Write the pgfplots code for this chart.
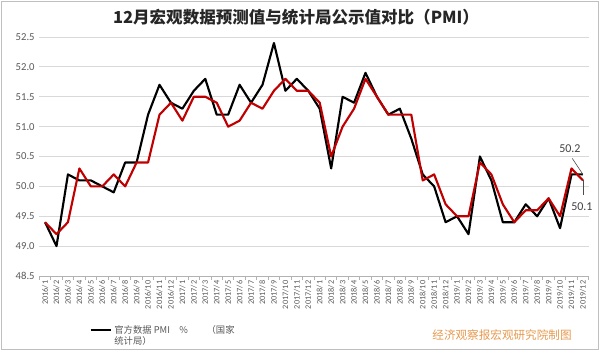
\documentclass[border=0pt]{standalone}
\usepackage{fontspec}
\setmainfont{Carlito}
\newfontfamily\cjk{Noto Sans CJK SC}
\usepackage{pgfplots}
\usepackage{pgfplotstable}
\pgfplotsset{compat=1.18}
\definecolor{gridgray}{HTML}{D9D9D9}
\definecolor{labgray}{HTML}{595959}
\definecolor{axred}{HTML}{C00000}
\definecolor{wm}{HTML}{E6994F}
\pgfplotstableread{
idx off fc
0 49.4 49.4
1 49.0 49.2
2 50.2 49.4
3 50.1 50.3
4 50.1 50.0
5 50.0 50.0
6 49.9 50.2
7 50.4 50.0
8 50.4 50.4
9 51.2 50.4
10 51.7 51.2
11 51.4 51.4
12 51.3 51.1
13 51.6 51.5
14 51.8 51.5
15 51.2 51.4
16 51.2 51.0
17 51.7 51.1
18 51.4 51.4
19 51.7 51.3
20 52.4 51.6
21 51.6 51.8
22 51.8 51.6
23 51.6 51.6
24 51.3 51.4
25 50.3 50.5
26 51.5 51.0
27 51.4 51.3
28 51.9 51.8
29 51.5 51.5
30 51.2 51.2
31 51.3 51.2
32 50.8 51.2
33 50.2 50.1
34 50.0 50.2
35 49.4 49.7
36 49.5 49.5
37 49.2 49.5
38 50.5 50.4
39 50.1 50.2
40 49.4 49.7
41 49.4 49.4
42 49.7 49.6
43 49.5 49.6
44 49.8 49.8
45 49.3 49.5
46 50.2 50.3
47 50.2 50.1
}\datatable
\begin{document}
\begin{tikzpicture}
\path[use as bounding box] (0,0) rectangle (450pt,266.25pt);
\draw[gray!50, line width=0.75pt] (1.1pt,4.5pt) rectangle (448.6pt,265.4pt);
\node[font=\cjk\bfseries\fontsize{12.4}{14}\selectfont, text=black!85] at (222pt,253.5pt) {12月宏观数据预测值与统计局公示值对比（PMI）};
\begin{axis}[
  at={(29.5pt,59.25pt)}, anchor=south west,
  scale only axis, width=412pt, height=179.25pt,
  xmin=-0.5, xmax=47.5, ymin=48.5, ymax=52.5,
  clip mode=individual,
  axis x line*=bottom, axis y line*=left,
  x axis line style={draw=gray!60, line width=0.75pt, -},
  y axis line style={draw=none},
  ytick={48.5,49.0,49.5,50.0,50.5,51.0,51.5,52.0,52.5},
  ymajorgrids, grid style={gridgray, line width=0.75pt},
  major tick length=0pt,
  minor tick length=3pt,
  tick align=outside,
  minor xtick={-0.5,0.5,...,47.5},
  minor tick style={draw=gray!60, line width=0.6pt},
  xtick={0,1,...,47},
  xticklabels={2016/1,2016/2,2016/3,2016/4,2016/5,2016/6,2016/7,2016/8,2016/9,2016/10,2016/11,2016/12,
    2017/1,2017/2,2017/3,2017/4,2017/5,2017/6,2017/7,2017/8,2017/9,2017/10,2017/11,2017/12,
    2018/1,2018/2,2018/3,2018/4,2018/5,2018/6,2018/7,2018/8,2018/9,2018/10,2018/11,2018/12,
    2019/1,2019/2,2019/3,2019/4,2019/5,2019/6,2019/7,2019/8,2019/9,2019/10,2019/11,2019/12},
  x tick label style={rotate=90, anchor=east, font=\fontsize{6.2}{7}\selectfont, text=labgray},
  y tick label style={font=\fontsize{8}{9}\selectfont, text=labgray,
    /pgf/number format/.cd, fixed, fixed zerofill, precision=1, assume math mode=true},
  legend style={at={(0.0886,-0.188)}, anchor=north west, draw=none, fill=none,
    font=\cjk\fontsize{7}{8.5}\selectfont, text=labgray, cells={align=left}, inner sep=1pt},
  legend cell align=left,
  legend image code/.code={\draw[#1] (0pt,4.5pt) -- (15pt,4.5pt);},
]
\addplot[black, line width=1.6pt, line join=round] table[x=idx, y=off] {\datatable};
\addlegendentry{官方数据 PMI\quad \%\qquad（国家\\统计局）}
\addplot[axred, line width=1.6pt, line join=round, forget plot] table[x=idx, y=fc] {\datatable};
\draw[black!70, line width=0.5pt] (axis cs:47,50.2) -- ++(-8pt,12pt);
\node[font=\fontsize{9}{10}\selectfont, text=black!75, xshift=-9.75pt, yshift=19.5pt] at (axis cs:47,50.2) {50.2};
\draw[black!70, line width=0.5pt] (axis cs:47,50.1) -- ++(0pt,-11pt);
\node[font=\fontsize{9}{10}\selectfont, text=black!75, xshift=-0.75pt, yshift=-20pt] at (axis cs:47,50.1) {50.1};
\end{axis}
\node[font=\cjk\fontsize{8.7}{10}\selectfont, text=wm] at (376.5pt,15pt) {经济观察报宏观研究院制图};
\end{tikzpicture}
\end{document}
